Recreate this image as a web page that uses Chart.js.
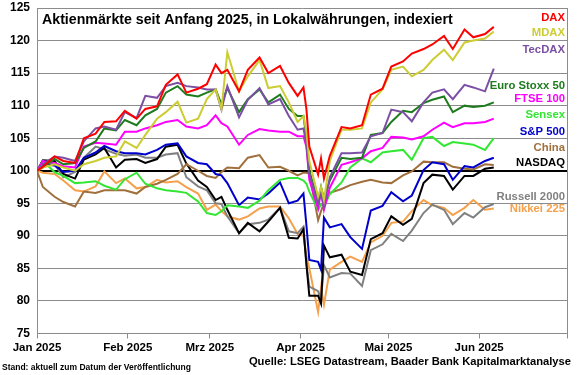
<!DOCTYPE html>
<html>
<head>
<meta charset="utf-8">
<script src="https://cdn.jsdelivr.net/npm/chart.js@4"></script>
<style>
    body { margin: 0; background: #fff; }
    #wrap { width: 580px; height: 375px; }
</style>
</head>
<body>
<div id="wrap"><canvas id="chart" width="580" height="375"></canvas></div>
<script>
// days since 1 Jan 2025
const days = [0,2,6,9,13,16,20,23,27,30,34,37,41,44,48,51,55,58,61,63,65,69,72,76,79,83,86,89,91,92,93,96,97,98,100,104,107,111,114,118,121,125,128,132,135,139,142,146,149,153,156];

const monthStarts = [0, 31, 59, 90, 120, 151, 181];
const monthLabels = ['Jan 2025', 'Feb 2025', 'Mrz 2025', 'Apr 2025', 'Mai 2025', 'Jun 2025', ''];

const dax = [100,100.6,102.2,101.5,101.2,105,105.7,107.5,107.6,109.2,108,109.5,109.9,113.2,114.8,112,112.6,113.3,116.3,115,115.5,112.2,115.5,117.4,115,116.1,113.5,111.5,112.8,109.5,103.7,99.4,101.9,98.8,102.3,106.7,106.5,107,111.7,112.6,116,116.8,118,118.7,119.4,120.7,118.7,121.7,120.5,121,122.1];
const mdax = [100,100.5,101,100.5,100,101,101.5,102,102.2,104.5,103.5,105.5,108,109,110.6,107.4,108,111,112.5,109.5,118.2,112.2,114.5,117,112.7,113,110.5,107.5,108.4,106,101.5,96,97.5,95.5,101.5,106.3,106.3,106.5,110.5,112.5,115.5,116,114.5,115.5,117,118.6,117,119.7,120,120.3,121.4];
const tecdax = [100,101,102.2,102,101.5,104.5,106.5,106.8,106.3,109,108.1,111.5,111.2,113,113.5,113,112.8,112.5,112.5,109.4,113,108.2,110.9,112.7,110.2,111,108.4,106.3,106.5,104,99.5,95,96.5,94.5,99,102.7,102.7,102.8,105.3,105.8,109.4,109,107.6,110.5,112,112.5,111,113.2,112.8,112.2,115.7];
const stoxx = [100,100.5,101.8,101,101.2,103.5,104.5,106.5,106.2,107.8,107,108.5,109.5,112,113,111.7,111.4,112,112.5,110.2,112.7,109,111,112.5,110.5,111.7,109.5,108.4,108.4,105,100,95.3,97.5,95.7,98.5,102,101.8,102,105.5,105.8,107.5,109.2,109,110.4,110.9,111.4,109,110,109.8,110,110.5];
const ftse = [100,101.5,101.2,100.7,100.5,103.7,104.3,104.2,104,106,106,106.5,107,107.5,107.8,106.8,106.5,107,108.5,107.3,106.8,104,105.5,106.4,106.2,106,106,105.3,105.3,103.7,98.6,94.2,96.8,94,97.4,100.9,101.3,101.9,103,103.5,105.2,105.1,104.8,105.3,106.3,107.4,106.7,107.3,107.3,107.5,108];
const sensex = [100,101.5,99.8,99.2,98.1,98.2,98.4,97.7,97.1,98.7,99.7,98,97.3,97,96.8,96.6,95.3,93.5,93.2,93.8,94.7,94.5,94.3,95.4,97,98.6,98.9,98.9,98.5,98,96.8,94,94.8,94.5,96.4,98.2,100.5,101.9,101.3,102.8,103,103.2,101.7,105,105.2,103.8,104.4,104.2,104,103.2,105];
const sp500 = [100,101,100.8,99.8,100,102,102.8,103.8,103,102.7,102.7,102.5,103.2,104,104.2,102.2,101.2,101,99.5,99.3,98.1,94.7,95.9,95.6,96.5,98.2,95,95.4,96.5,91.7,86.3,86,84.8,92.8,91.3,91.8,89.8,88,93.9,94.6,96.7,95.3,96.2,100.1,101.3,101,98.6,100.7,100.5,101.5,102];
const china = [100,97.5,96,95.2,94.5,96.8,96.6,97,97,97,96.5,97.5,98,98.6,99.5,101,100,99.2,98.9,99.8,100.5,100.4,102,102.4,100.5,100.6,100,99.3,99.7,99.7,99.6,92.4,93.8,95,96.6,97.2,97.8,98.3,98.6,98.2,98.1,99.3,99.9,101.4,101.3,101.3,100.6,100.3,100.2,101,100.9];
const nasdaq = [100,101.6,101.5,99.5,98.8,101.7,102.5,103.5,100.5,101.7,101.8,101.2,101.8,103.7,104,101.1,98.5,97.5,95.5,96,94,90.4,92,90.7,92.2,94.3,89.7,89.6,91,85.7,80.8,80.8,79.6,88.5,86.7,87.1,84.5,84,89.5,90.4,93,91.7,92.6,98.1,99.4,99.2,97.1,99.2,99.2,100.3,100.5];
const russell = [100,101.5,101,99,99.8,102,103.7,103.3,102.6,102.3,102.5,102,102,102.5,102.7,99,97.6,97,95,94.9,93,90.4,91.8,92,92.5,94.3,90.7,90.4,91.4,85.6,82.2,81.5,80.2,85.5,83.6,84.3,84.2,82.3,87.8,88.7,90.3,89.2,90.8,93.5,94.8,94,91.8,93.5,92.8,94.4,94.9];
const nikkei = [100,99.7,99.5,98.5,97,96.8,97.6,99.9,98.1,98.8,97.3,97.5,98.6,98.2,98.4,97.5,96.5,94,94.8,93.8,93,92.5,93,94.2,94.5,94.5,92.7,90.3,90,87,85,78.3,82,79.4,84.8,86,86.8,86,89,90,92,92.2,93.8,95.5,94.7,94.3,93.2,94.3,95.5,94,94.2];

const seriesNames = ['DAX', 'MDAX', 'TecDAX', 'Euro Stoxx 50', 'FTSE 100', 'Sensex', 'S&P 500', 'China', 'NASDAQ', 'Russell 2000', 'Nikkei 225'];
const seriesValues = [dax, mdax, tecdax, stoxx, ftse, sensex, sp500, china, nasdaq, russell, nikkei];
const seriesColors = ['#ff0000', '#cccc33', '#7b4fa3', '#1e7b1e', '#ff00ff', '#33e633', '#0000cc', '#a0703c', '#000000', '#808080', '#f5a04a'];

const gridColor = '#8c8c8c';
const fontFamily = '"Liberation Sans", Arial, sans-serif';

// title, labels at the right edge and footer lines
const textPlugin = {
    id: 'textPlugin',
    beforeDatasetsDraw(chart) {
        const { ctx, chartArea } = chart;
        ctx.save();
        ctx.strokeStyle = gridColor;
        ctx.lineWidth = 1;
        ctx.beginPath();
        ctx.moveTo(chartArea.right + 0.5, chartArea.top);
        ctx.lineTo(chartArea.right + 0.5, chartArea.bottom);
        ctx.stroke();
        ctx.restore();
    },
    afterDraw(chart) {
        const { ctx, chartArea } = chart;
        ctx.save();
        ctx.textBaseline = 'middle';
        ctx.fillStyle = '#000';
        ctx.font = 'bold 14.2px ' + fontFamily;
        ctx.textAlign = 'left';
        ctx.fillText('Aktienmärkte seit Anfang 2025, in Lokalwährungen, indexiert', chartArea.left + 5, 20);

        const labelY = [18, 33, 50, 86, 99, 115, 132, 148, 163, 197, 209];
        ctx.font = 'bold 11.3px ' + fontFamily;
        ctx.textAlign = 'right';
        seriesNames.forEach((name, i) => {
            ctx.fillStyle = seriesColors[i];
            ctx.fillText(name, chartArea.right - 2, labelY[i]);
        });

        ctx.fillStyle = '#000';
        ctx.font = 'bold 11.2px ' + fontFamily;
        ctx.fillText('Quelle: LSEG Datastream, Baader Bank Kapitalmarktanalyse', 571, 362);
        ctx.font = 'bold 8.5px ' + fontFamily;
        ctx.textAlign = 'left';
        ctx.fillText('Stand: aktuell zum Datum der Veröffentlichung', 2, 368);
        ctx.restore();
    }
};

const datasets = seriesNames.map((name, i) => ({
    label: name,
    data: days.map((d, j) => ({ x: d, y: seriesValues[i][j] })),
    borderColor: seriesColors[i],
    backgroundColor: seriesColors[i],
    borderWidth: 2,
    pointRadius: 0,
    tension: 0,
    fill: false
}));

const chart = new Chart(document.getElementById('chart').getContext('2d'), {
    type: 'line',
    data: { datasets: datasets },
    options: {
        responsive: false,
        animation: false,
        layout: { autoPadding: false, padding: { left: 0, right: 13, top: 8, bottom: 0 } },
        plugins: {
            legend: { display: false },
            title: { display: false },
            tooltip: { enabled: false }
        },
        scales: {
            x: {
                type: 'linear',
                min: 0,
                max: 181,
                afterBuildTicks: (scale) => {
                    scale.ticks = monthStarts.map(v => ({ value: v }));
                },
                afterFit: (scale) => {
                    scale.height = 41.5;
                    scale.paddingLeft = 0;
                    scale.paddingRight = 0;
                },
                ticks: {
                    autoSkip: false,
                    maxRotation: 0,
                    padding: 2,
                    color: '#000',
                    font: { family: fontFamily, size: 11.5, weight: 'bold' },
                    callback: (value, index) => monthLabels[index]
                },
                grid: { drawOnChartArea: false, color: gridColor, tickLength: 5 },
                border: { color: gridColor }
            },
            y: {
                min: 75,
                max: 125,
                afterFit: (scale) => {
                    scale.width = 37;
                    scale.paddingTop = 0;
                    scale.paddingBottom = 0;
                },
                ticks: {
                    stepSize: 5,
                    padding: 7,
                    color: '#000',
                    font: { family: fontFamily, size: 12, weight: 'bold' }
                },
                grid: {
                    drawTicks: false,
                    color: (c) => c.tick && c.tick.value === 100 ? '#000' : gridColor,
                    lineWidth: (c) => c.tick && c.tick.value === 100 ? 2 : 1
                },
                border: { color: gridColor }
            }
        }
    },
    plugins: [textPlugin]
});
</script>
</body>
</html>
